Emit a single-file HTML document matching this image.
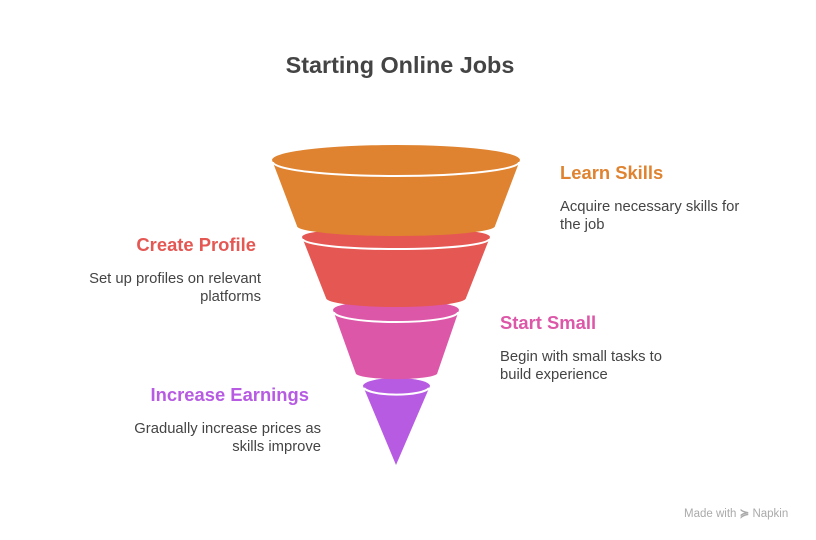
<!DOCTYPE html>
<html><head><meta charset="utf-8"><style>
body{margin:0;background:#fff;width:816px;height:540px;overflow:hidden;position:relative;font-family:"Liberation Sans",sans-serif}
.t{position:absolute;white-space:nowrap}
.h{font-weight:bold;font-size:18.4px}
.d{font-size:14.8px;color:#444;line-height:18px}
</style></head><body>
<div class="t" style="left:0;width:800px;text-align:center;top:52px;font-size:23.4px;font-weight:bold;color:#444">Starting Online Jobs</div>
<svg width="816" height="540" style="position:absolute;left:0;top:0">
<path d="M363 386 L396 465 L430 386 A33.5 8 0 0 0 363 386 Z" fill="#B75BE3"/>
<path d="M364 388 A33 8 0 0 0 429 388" fill="none" stroke="#fff" stroke-width="2"/>
<path d="M333 310 L356 374 A41 6 0 0 0 437 374 L459 310 A63 10 0 0 0 333 310 Z" fill="#DD57A8"/>
<path d="M334 312 A62 10 0 0 0 458 312" fill="none" stroke="#fff" stroke-width="2"/>
<path d="M302 237 L326 298 A70 9 0 0 0 466 298 L490 237 A94 10 0 0 0 302 237 Z" fill="#E45753"/>
<path d="M303 239 A93 10 0 0 0 489 239" fill="none" stroke="#fff" stroke-width="2"/>
<path d="M272 160 L297 226 A99 10 0 0 0 495 226 L520 160 A124 15 0 0 0 272 160 Z" fill="#DF8330"/>
<path d="M273 162 A123 14 0 0 0 519 162" fill="none" stroke="#fff" stroke-width="2"/>
</svg>
<div class="t h" style="left:560px;top:162px;color:#DF8330">Learn Skills</div>
<div class="t d" style="left:560px;top:198px">Acquire necessary skills for<br>the job</div>
<div class="t h" style="right:560px;top:234px;color:#E45753;text-align:right">Create Profile</div>
<div class="t d" style="right:555px;top:270px;text-align:right">Set up profiles on relevant<br>platforms</div>
<div class="t h" style="left:500px;top:312px;color:#DD57A8">Start Small</div>
<div class="t d" style="left:500px;top:348px">Begin with small tasks to<br>build experience</div>
<div class="t h" style="right:507px;top:384px;color:#B75BE3;text-align:right">Increase Earnings</div>
<div class="t d" style="right:495px;top:420px;text-align:right">Gradually increase prices as<br>skills improve</div>
<div class="t" style="left:684px;top:506px;font-size:11.5px;color:#aaa">Made with <span style="font-weight:bold">≽</span> Napkin</div>
</body></html>
